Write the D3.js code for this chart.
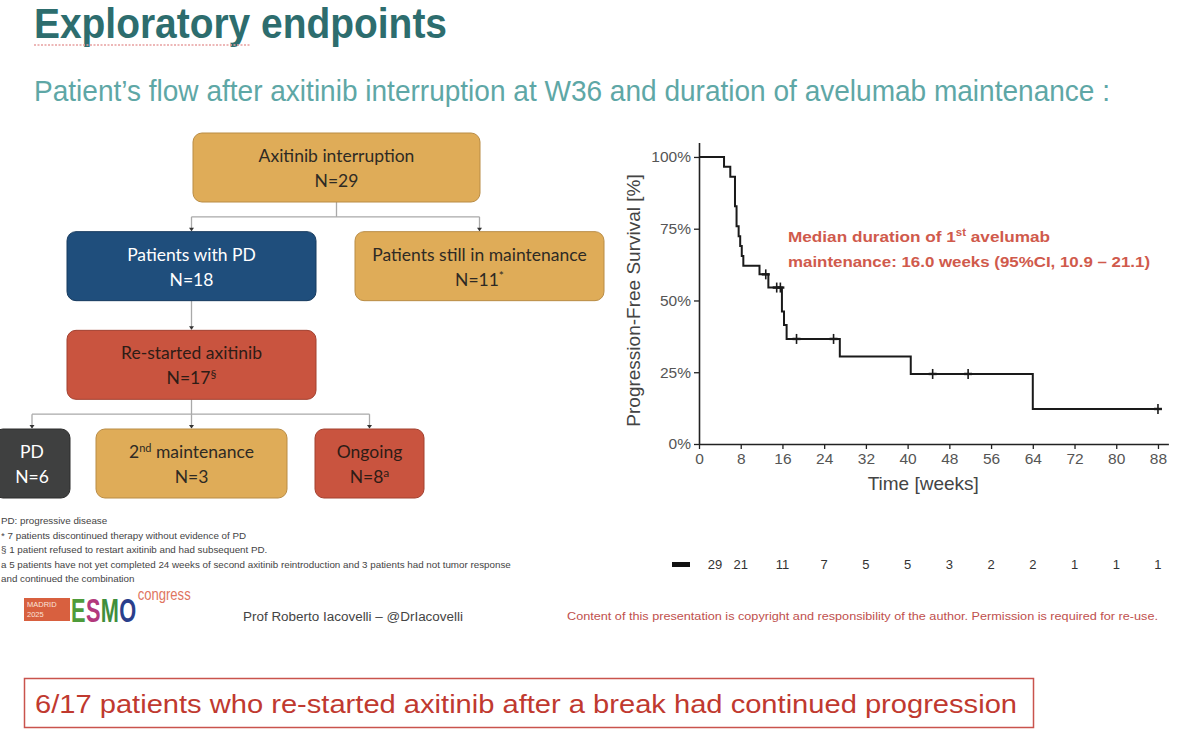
<!DOCTYPE html>
<html>
<head>
<meta charset="utf-8">
<script src="https://cdn.jsdelivr.net/npm/d3@7"></script>
<style>
  body { margin: 0; background: #fff; }
  svg { display: block; }
</style>
</head>
<body>
<svg id="chart"></svg>
<script>
var width = 1200;
var height = 744;
var svg = d3.select("#chart").attr("width", width).attr("height", height);

// ---- data ----
// flowchart
var flowNames = ["Axitinib interruption", "Patients with PD", "Patients still in maintenance",
                 "Re-started axitinib", "PD", "2nd maintenance", "Ongoing"];
var flowCounts = [29, 18, 11, 17, 6, 3, 8];
var flowMarks = ["", "", "*", "\u00a7", "", "", "a"];
var flowParent = [null, 0, 0, 1, 3, 3, 3];
var flowKind = ["gold", "blue", "gold", "red", "gray", "gold", "red"];

// Kaplan-Meier, PFS on avelumab maintenance (weeks, %)
var kmWeeks = [0, 4.8, 6.0, 6.9, 7.2, 7.6, 7.9, 8.2, 8.5, 11.6, 13.3, 15.9, 16.3, 16.8, 27.0, 40.6, 64.0, 88];
var kmSurv  = [100, 96.6, 93.1, 82.8, 75.9, 72.4, 69.0, 65.5, 62.1, 59.1, 54.5, 46.2, 41.5, 36.6, 30.5, 24.4, 12.2, 12.2];
var censorWeeks = [12.8, 14.9, 15.6, 18.7, 25.8, 44.8, 51.6, 88];
var censorSurv  = [59.1, 54.5, 54.5, 36.6, 36.6, 24.4, 24.4, 12.2];

var xTicks = [0, 8, 16, 24, 32, 40, 48, 56, 64, 72, 80, 88];
var yTicks = [0, 25, 50, 75, 100];
var atRisk = [29, 21, 11, 7, 5, 5, 3, 2, 2, 1, 1, 1];

var footnotes = [
  "PD: progressive disease",
  "* 7 patients discontinued therapy without evidence of PD",
  "\u00a7 1 patient refused to restart axitinib and had subsequent PD.",
  "a 5 patients have not yet completed 24 weeks of second axitinib reintroduction and 3 patients had not tumor response",
  "and continued the combination"
];

var esmoLetters = ["E", "S", "M", "O"];

// ---- styles / layout ----
var fillColor = {gold: "#dfac58", blue: "#1f4e7c", red: "#c9543f", gray: "#3f4040"};
var strokeColor = {gold: "#b98c45", blue: "#163a5e", red: "#a2402f", gray: "#2c2c2c"};
var textColor = {gold: "#2e2a24", blue: "#ffffff", red: "#2e1c16", gray: "#ffffff"};
var boxLayout = [
  {cx: 336.5, w: 287, row: 0},
  {cx: 191.5, w: 249, row: 1},
  {cx: 479.5, w: 249, row: 1},
  {cx: 191.5, w: 249, row: 2},
  {cx: 32, w: 76, row: 3},
  {cx: 191.5, w: 191, row: 3},
  {cx: 369.5, w: 109, row: 3}
];
var boxH = 69;
var rowY = d3.scaleLinear().domain([0, 3]).range([133, 429]);
var axisFont = "Liberation Sans, Arial, sans-serif";

// ---- titles ----
svg.append("text")
  .attr("x", 34).attr("y", 38)
  .attr("font-family", axisFont)
  .attr("font-weight", "bold").attr("font-size", 42)
  .attr("fill", "#2d6d6e")
  .attr("textLength", 413).attr("lengthAdjust", "spacingAndGlyphs")
  .text("Exploratory endpoints");
// spellcheck squiggle
svg.append("line")
  .attr("x1", 34).attr("x2", 250).attr("y1", 45).attr("y2", 45)
  .attr("stroke", "#e8a0a0").attr("stroke-width", 1.5).attr("stroke-dasharray", "2,1.5");

svg.append("text")
  .attr("x", 34).attr("y", 101)
  .attr("font-family", axisFont)
  .attr("font-size", 29)
  .attr("fill", "#5ea7a6")
  .attr("textLength", 1076).attr("lengthAdjust", "spacingAndGlyphs")
  .text("Patient\u2019s flow after axitinib interruption at W36 and duration of avelumab maintenance :");

// ---- flowchart ----
var flow = svg.append("g");
var boxes = flowNames.map(function(name, i) {
  var L = boxLayout[i];
  return {name: name, n: flowCounts[i], mark: flowMarks[i], parent: flowParent[i], kind: flowKind[i],
          x: L.cx - L.w / 2, y: rowY(L.row), w: L.w, h: boxH, cx: L.cx};
});

// connectors
var linkColor = "#a9a9a9";
d3.range(boxes.length).forEach(function(p) {
  var kids = boxes.filter(function(b) { return b.parent === p; });
  if (!kids.length) return;
  var par = boxes[p];
  var top = par.y + par.h;
  var busY = (top + kids[0].y) / 2;
  if (kids.length === 1) {
    flow.append("line").attr("x1", par.cx).attr("x2", par.cx).attr("y1", top).attr("y2", kids[0].y - 1)
      .attr("stroke", linkColor).attr("stroke-width", 1.3);
  } else {
    var xs = kids.map(function(k) { return k.cx; });
    flow.append("line").attr("x1", par.cx).attr("x2", par.cx).attr("y1", top).attr("y2", busY)
      .attr("stroke", linkColor).attr("stroke-width", 1.3);
    flow.append("line").attr("x1", d3.min(xs)).attr("x2", d3.max(xs)).attr("y1", busY).attr("y2", busY)
      .attr("stroke", linkColor).attr("stroke-width", 1.3);
    kids.forEach(function(k) {
      flow.append("line").attr("x1", k.cx).attr("x2", k.cx).attr("y1", busY).attr("y2", k.y - 1)
        .attr("stroke", linkColor).attr("stroke-width", 1.3);
    });
  }
  kids.forEach(function(k) {
    flow.append("path")
      .attr("d", "M" + (k.cx - 2.5) + "," + (k.y - 4) + "L" + (k.cx + 2.5) + "," + (k.y - 4) + "L" + k.cx + "," + (k.y - 0.5) + "Z")
      .attr("fill", "#333");
  });
});

var bg = flow.selectAll("g.box").data(boxes).enter().append("g").attr("class", "box");
bg.append("rect")
  .attr("x", function(d) { return d.x; }).attr("y", function(d) { return d.y; })
  .attr("width", function(d) { return d.w; }).attr("height", function(d) { return d.h; })
  .attr("rx", 9).attr("ry", 9)
  .attr("fill", function(d) { return fillColor[d.kind]; })
  .attr("stroke", function(d) { return strokeColor[d.kind]; }).attr("stroke-width", 1);

var line1 = bg.append("text")
  .attr("x", function(d) { return d.cx; }).attr("y", function(d) { return d.y + 29; })
  .attr("text-anchor", "middle")
  .attr("font-family", "Lato, 'Open Sans', sans-serif").attr("font-size", 17.5)
  .attr("fill", function(d) { return textColor[d.kind]; });
line1.each(function(d) {
  var t = d3.select(this);
  var m = d.name.match(/^(\d+)(st|nd|rd|th)(.*)$/);
  if (m) {
    t.append("tspan").text(m[1]);
    t.append("tspan").attr("font-size", 11).attr("dy", -6).text(m[2]);
    t.append("tspan").attr("dy", 6).text(m[3]);
  } else {
    t.text(d.name);
  }
});
var line2 = bg.append("text")
  .attr("x", function(d) { return d.cx; }).attr("y", function(d) { return d.y + 54; })
  .attr("text-anchor", "middle")
  .attr("font-family", "Lato, 'Open Sans', sans-serif").attr("font-size", 17.5)
  .attr("fill", function(d) { return textColor[d.kind]; });
line2.each(function(d) {
  var t = d3.select(this);
  t.append("tspan").text("N=" + d.n);
  if (d.mark) t.append("tspan").attr("font-size", 12).attr("dy", -6).text(d.mark);
});

// footnotes
svg.append("g").selectAll("text").data(footnotes).enter().append("text")
  .attr("x", 1)
  .attr("y", function(d, i) { return 524 + i * 14.6; })
  .attr("font-family", axisFont).attr("font-size", 9.8)
  .attr("fill", "#444")
  .text(function(d) { return d; });

// ---- Kaplan-Meier ----
var x = d3.scaleLinear().domain([0, 90]).range([699, 1168.4]);
var y = d3.scaleLinear().domain([0, 105]).range([444, 142.6]);

var km = svg.append("g");

km.append("g")
  .attr("transform", "translate(0," + y(0) + ")")
  .call(d3.axisBottom(x).tickValues(xTicks).tickSize(5).tickSizeOuter(0).tickPadding(4))
  .call(function(g) {
    g.select(".domain").attr("stroke", "#222").attr("stroke-width", 1.6);
    g.selectAll(".tick line").attr("stroke", "#222").attr("stroke-width", 1.3);
    g.selectAll("text").attr("font-family", axisFont).attr("font-size", 15.5).attr("fill", "#555");
  });

km.append("g")
  .attr("transform", "translate(" + x(0) + ",0)")
  .call(d3.axisLeft(y).tickValues(yTicks).tickSize(5).tickSizeOuter(0).tickPadding(3)
        .tickFormat(function(d) { return d + "%"; }))
  .call(function(g) {
    g.select(".domain").attr("stroke", "#222").attr("stroke-width", 1.6);
    g.selectAll(".tick line").attr("stroke", "#222").attr("stroke-width", 1.3);
    g.selectAll("text").attr("font-family", axisFont).attr("font-size", 15.5).attr("fill", "#555");
  });

km.append("text")
  .attr("transform", "translate(640," + y(50) + ") rotate(-90)")
  .attr("text-anchor", "middle")
  .attr("font-family", axisFont).attr("font-size", 19).attr("fill", "#444")
  .text("Progression-Free Survival [%]");

km.append("text")
  .attr("x", x(43)).attr("y", 490)
  .attr("text-anchor", "middle")
  .attr("font-family", axisFont).attr("font-size", 19).attr("fill", "#444")
  .text("Time [weeks]");

var kmPoints = kmWeeks.map(function(w, i) { return [w, kmSurv[i]]; });
var stepLine = d3.line()
  .x(function(d) { return x(d[0]); })
  .y(function(d) { return y(d[1]); })
  .curve(d3.curveStepAfter);
km.append("path")
  .datum(kmPoints)
  .attr("d", stepLine)
  .attr("fill", "none").attr("stroke", "#1a1a1a").attr("stroke-width", 2);

var cens = km.selectAll("g.cens").data(censorWeeks).enter().append("g")
  .attr("transform", function(d, i) { return "translate(" + x(d) + "," + y(censorSurv[i]) + ")"; });
cens.append("line").attr("x1", 0).attr("x2", 0).attr("y1", -5).attr("y2", 5)
  .attr("stroke", "#1a1a1a").attr("stroke-width", 1.6);
cens.append("line").attr("x1", -4).attr("x2", 4).attr("y1", 0).attr("y2", 0)
  .attr("stroke", "#1a1a1a").attr("stroke-width", 2.4);

// median annotation
var ann = km.append("g").attr("font-family", axisFont).attr("font-weight", "bold")
  .attr("font-size", 15).attr("fill", "#d05a4c");
var a1 = ann.append("text").attr("x", 788).attr("y", 242)
  .attr("textLength", 262).attr("lengthAdjust", "spacingAndGlyphs");
a1.append("tspan").text("Median duration of 1");
a1.append("tspan").attr("font-size", 10).attr("dy", -6).text("st");
a1.append("tspan").attr("dy", 6).text(" avelumab");
ann.append("text").attr("x", 788).attr("y", 267)
  .attr("textLength", 362).attr("lengthAdjust", "spacingAndGlyphs")
  .text("maintenance: 16.0 weeks (95%CI, 10.9 \u2013 21.1)");

// number at risk
km.append("rect")
  .attr("x", x(0) - 27).attr("y", 562).attr("width", 18).attr("height", 5)
  .attr("fill", "#111");
km.append("g").selectAll("text").data(atRisk).enter().append("text")
  .attr("x", function(d, i) { return i === 0 ? x(0) + 16 : x(xTicks[i]); })
  .attr("y", 569)
  .attr("text-anchor", "middle")
  .attr("font-family", axisFont).attr("font-size", 13).attr("fill", "#333")
  .text(function(d) { return d; });

// ---- footer ----
svg.append("rect").attr("x", 24).attr("y", 598).attr("width", 46).attr("height", 23).attr("fill", "#d8603f");
svg.append("text").attr("x", 27).attr("y", 607).attr("font-family", axisFont).attr("font-size", 7.5)
  .attr("fill", "#fbe2d8").text("MADRID");
svg.append("text").attr("x", 27).attr("y", 617).attr("font-family", axisFont).attr("font-size", 7.5)
  .attr("fill", "#fbe2d8").text("2025");

// ESMO letters: condensed by scaling, placed one after the other
var esmoColors = ["#4e9b3a", "#b2387c", "#3f8e3d", "#2a3f8c"];
var esmoScale = 0.64;
var esmoCursor = 71;
esmoLetters.forEach(function(letter, i) {
  var t = svg.append("text")
    .attr("font-family", axisFont).attr("font-weight", "bold").attr("font-size", 34)
    .attr("fill", esmoColors[i])
    .text(letter);
  t.attr("transform", "translate(" + esmoCursor + ",622) scale(" + esmoScale + ",1)");
  esmoCursor += t.node().getComputedTextLength() * esmoScale + 0.4;
});
svg.append("text").attr("x", esmoCursor + 1).attr("y", 600).attr("font-family", axisFont).attr("font-size", 16)
  .attr("fill", "#e07560").attr("textLength", 53).attr("lengthAdjust", "spacingAndGlyphs").text("congress");

svg.append("text").attr("x", 243).attr("y", 621).attr("font-family", axisFont).attr("font-size", 12)
  .attr("fill", "#444").attr("textLength", 220).attr("lengthAdjust", "spacingAndGlyphs")
  .text("Prof Roberto Iacovelli \u2013 @DrIacovelli");
svg.append("text").attr("x", 567).attr("y", 620).attr("font-family", axisFont).attr("font-size", 11)
  .attr("fill", "#c0504d").attr("textLength", 591).attr("lengthAdjust", "spacingAndGlyphs")
  .text("Content of this presentation is copyright and responsibility of the author. Permission is required for re-use.");

// conclusion box
svg.append("rect").attr("x", 24.5).attr("y", 678.5).attr("width", 1009).attr("height", 49)
  .attr("fill", "#fff").attr("stroke", "#c9534d").attr("stroke-width", 1.5);
svg.append("text").attr("x", 35).attr("y", 713).attr("font-family", axisFont).attr("font-size", 26)
  .attr("fill", "#c0392f").attr("textLength", 982).attr("lengthAdjust", "spacingAndGlyphs")
  .text("6/17 patients who re-started axitinib after a break had continued progression");
</script>
</body>
</html>
